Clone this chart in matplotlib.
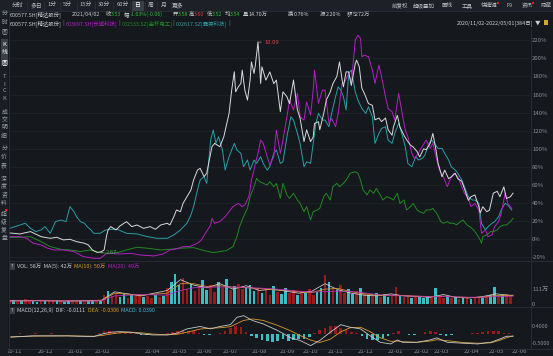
import matplotlib
matplotlib.use("Agg")
import matplotlib.pyplot as plt
from matplotlib.patches import Rectangle
from matplotlib.lines import Line2D

plt.rcParams['font.family'] = ['Noto Sans CJK SC', 'DejaVu Sans']

# ---- data (x = trading-day index, 0 = 2020/11/02) ----
white_day = [0, 8, 16, 24, 31, 36, 41, 46, 51, 57, 60, 63, 67, 70, 72, 73, 74, 75, 77, 81, 84, 89, 93, 97,
             102, 107, 111, 115, 120, 122, 125, 127, 130, 132, 138, 140, 143, 145, 148, 150, 154, 156, 160,
             163, 167, 169, 171, 172, 174, 176, 177, 179, 181, 183, 184, 186, 187, 189, 190, 191, 192, 195,
             198, 201, 203, 206, 208, 211, 213, 216, 219, 221, 224, 226, 229, 231, 232, 235, 236, 239, 241,
             244, 246, 249, 251, 253, 254, 256, 258, 260, 263, 264, 266, 268, 270, 273, 276, 278, 281, 283,
             286, 288, 291, 292, 295, 297, 300, 302, 305, 307, 310, 312, 315, 317, 320, 322, 324, 326, 329,
             331, 334, 336, 339, 341, 344, 346, 349, 351, 354, 357, 358, 360, 363, 365, 368, 371, 373, 376,
             378, 381, 383]
white_pct = [7, 5.9, 8.5, 2.9, 1.1, 2.2, -0.7, 0, -2.6, -4.4, -6.3, -11.8, -14.7, -13.6, -11.8, -3, 5, 10.3,
             14, 10.3, 14.7, 19.5, 14, 15.8, 12.1, 14, 11, 15.8, 17.7, 15.8, 25, 32.4, 30.5, 39.7, 54.5, 65.5,
             76.5, 78.4, 69.2, 72.9, 102.3, 106, 102.3, 113.3, 139.1, 164.9, 185.1, 163, 168.5, 172.2, 187,
             164.9, 153.8, 175.9, 196.1, 183.3, 192.5, 217.9, 198, 172.2, 190.6, 175.9, 185, 172, 176, 141,
             163, 157.5, 150, 176, 143, 134, 108, 121, 108, 113, 128, 130, 121, 139, 154, 163, 172, 180, 196,
             176, 168.5, 185, 185, 170, 194, 198, 191, 167, 161, 150, 148, 132, 134, 130, 134, 121, 115, 124,
             137, 124, 115, 110, 104, 102, 97, 91, 100, 99, 106, 117, 102, 84, 69, 76.5, 67, 69, 73, 67, 64,
             56, 43, 47, 49, 36, 29, 36, 30.5, 32, 51, 53, 47, 58, 45, 47, 51]

magenta_day = [0, 8, 13, 18, 24, 29, 34, 41, 49, 56, 64, 69, 74, 84, 92, 99, 110, 117, 122, 127, 132, 137,
               143, 146, 149, 153, 154, 156, 160, 164, 168, 170, 174, 177, 179, 182, 183, 184, 186, 187, 189,
               191, 193, 196, 198, 201, 203, 206, 208, 211, 213, 216, 219, 221, 224, 226, 229, 231, 232, 235,
               238, 240, 243, 245, 248, 250, 253, 255, 258, 260, 263, 265, 267, 268, 270, 273, 276, 278, 281,
               283, 286, 288, 291, 293, 296, 298, 301, 303, 306, 308, 311, 313, 317, 320, 322, 325, 327, 330,
               333, 335, 338, 341, 344, 346, 349, 351, 354, 357, 359, 362, 364, 367, 369, 372, 374, 377, 379,
               382]
magenta_pct = [3, 2.9, 1.1, -4.4, -6.3, -9.9, -11.8, -11.8, -13.6, -19.1, -21, -21, -15.5, -16.2, -15.5,
               -17.3, -18.4, -16.2, -11.8, -10.7, -8.1, -8.1, -4.4, -0.7, 6.6, 15.8, 23.2, 17.7, 19.5, 25,
               32.4, 36.1, 39.7, 36.1, 37.9, 47.1, 54.5, 65.5, 76.5, 83.9, 94.9, 109.7, 106, 91.3, 82.1, 91.3,
               120.7, 94.9, 109.7, 135.4, 153.8, 142.8, 161.2, 135.4, 131.7, 152, 137.3, 164.9, 187, 150.1,
               164.9, 164.9, 128.1, 133.6, 124.4, 139.1, 172.2, 174, 183.3, 172.2, 220, 225.6, 221.9, 201.7,
               203.5, 201.7, 187, 172.2, 192.5, 179.6, 157.5, 144.6, 140.9, 131.7, 161.2, 144.6, 120.7, 113.3,
               94.9, 89.4, 94.9, 100.5, 109.7, 100.5, 106, 87.6, 76.5, 69.2, 58.1, 65.5, 72.9, 69.2, 58.1,
               50.8, 45.3, 36.1, 39.7, 32.4, 6.6, 10.3, 2.9, 4.8, 14, 19.5, 28.7, 50.8, 39.7, 34.2]

green_day = [0, 8, 16, 24, 31, 39, 46, 54, 61, 69, 74, 82, 89, 97, 105, 115, 122, 130, 140, 148, 155, 165,
             170, 173, 175, 178, 181, 183, 186, 188, 190, 193, 196, 198, 201, 203, 206, 208, 211, 213, 216,
             219, 221, 224, 226, 229, 231, 234, 236, 239, 241, 244, 246, 249, 251, 254, 257, 259, 263, 265,
             267, 269, 272, 274, 277, 279, 282, 284, 287, 290, 292, 295, 297, 300, 302, 305, 307, 310, 312,
             315, 317, 320, 322, 325, 328, 330, 333, 335, 338, 340, 343, 345, 348, 350, 353, 355, 358, 359,
             360, 363, 366, 368, 371, 373, 376, 378, 381, 383]
green_pct = [2, 2.2, 2.9, -2.6, -8.1, -11, -11.8, -13.6, -11.8, -14.7, -15.5, -14.7, -11.8, -8.8, -9.9,
             -11.8, -11, -9.9, -9.2, -12.5, -14.7, -12.5, -8.1, 2.9, 14, 25, 34.2, 47.1, 58.1, 67.3, 64,
             61.8, 60, 63.7, 58.1, 61.8, 45.3, 61.8, 48.9, 45.3, 50.8, 43.4, 39.7, 30.5, 36.1, 21.3, 30.5,
             32.4, 34.2, 47.1, 50.8, 43.4, 58.1, 61.8, 58.1, 61.8, 67.3, 72.9, 74.7, 72.9, 65.5, 54.5, 48.9,
             54.5, 50.8, 56.3, 48.9, 43.4, 47.1, 45.3, 43.4, 50.8, 39.7, 43.4, 32.4, 36.1, 39.7, 32.4, 30.5,
             28.7, 32.4, 32.4, 34.2, 28.7, 19.5, 17.7, 19.5, 17.7, 17.7, 15.8, 19.5, 21.3, 15.8, 14, 10.3,
             6.6, -0.7, -4.4, 2.9, 4.8, 8.5, 8.5, 10.3, 14, 15.8, 15.8, 19.5, 23.2]

cyan_day = [0, 8, 12, 16, 20, 24, 27, 31, 35, 39, 43, 46, 49, 51, 54, 57, 59, 62, 64, 69, 73, 77, 82, 89,
            97, 105, 112, 120, 125, 130, 135, 138, 140, 143, 145, 148, 150, 153, 155, 157, 159, 162, 164,
            167, 171, 173, 176, 178, 181, 183, 186, 188, 191, 193, 196, 198, 201, 203, 206, 208, 211, 214,
            216, 219, 221, 224, 226, 229, 230, 233, 235, 238, 240, 243, 245, 248, 250, 252, 254, 256, 258,
            260, 263, 265, 268, 271, 273, 276, 278, 281, 283, 286, 288, 291, 293, 296, 298, 301, 303, 306,
            309, 311, 314, 316, 319, 321, 324, 326, 329, 331, 334, 336, 339, 341, 344, 347, 349, 352, 354,
            357, 359, 362, 364, 367, 369, 372, 374, 377, 379, 382]
cyan_pct = [12, 15.8, 17.7, 12.1, 8.5, 10.3, 14, 6.6, 19.5, 21.3, 19.5, 36.1, 30.5, 25, 19.5, 17.7, 14, 10.3,
            6.6, 6.6, 10.3, 11, 11, 6.6, 5.9, 2.9, 1.1, 1.1, 4.8, 10.3, 17.7, 26.9, 36.1, 54.5, 65.5, 69.2,
            61.8, 109.7, 120.7, 106, 113.3, 98.6, 76.5, 91.3, 106, 98.6, 94.9, 80.2, 87.6, 76.5, 87.6, 83.9,
            91.3, 83.9, 76.5, 80.2, 94.9, 98.6, 83.9, 85.7, 113.3, 135.4, 131.7, 117, 106, 80.2, 85.7, 83.9,
            94.9, 128.1, 139.1, 131.7, 131.7, 124.4, 139.1, 157.5, 168.5, 164.9, 157.5, 142.8, 183.3, 187,
            163, 153.8, 144.6, 139.1, 146.5, 135.4, 106, 117, 122.5, 124.4, 109.7, 106, 117, 128.1, 118.9,
            102.3, 83.9, 80.2, 91.3, 87.6, 89.4, 93.1, 106, 109.7, 104.1, 100.5, 100.5, 94.9, 87.6, 80.2,
            76.5, 72.9, 65.5, 54.5, 47.1, 43.4, 43.4, 39.7, 17.7, 10.3, 14, 17.7, 19.5, 25, 32.4, 39.7,
            37.9, 32.4]

price_high = "10.09"
price_low = "2.67"

# volume (万), one bar every 3 trading days
vol_day = list(range(0, 384, 3))
vol_val = [22, 30, 18, 26, 34, 20, 24, 16, 28, 22, 19, 25, 30, 21, 17, 23, 27, 20, 24, 18, 22, 26, 19, 24,
           70, 95, 62, 80, 55, 72, 48, 66, 58, 74, 52, 60, 45, 68, 50, 58,
           120, 165, 225, 140, 190, 110, 150, 95, 130, 175, 105, 140, 90, 160, 120, 185, 100, 135, 150, 110, 125,
           140, 95, 120, 80, 110, 70, 130, 90, 75, 115, 85, 100, 65, 95, 80, 110, 70, 90, 120, 215,
           160, 120, 100, 140, 85, 110, 75, 95, 120, 80,
           70, 60, 85, 55, 75, 50, 65, 125, 60, 55, 70, 48, 62, 50, 45, 58, 52, 115, 60, 48, 55, 42, 50, 38,
           45, 52, 40, 48, 55, 44, 60, 70, 125, 58, 65, 72, 68]
vol_dir = ("rcrcrrccrcrrcrcc" "rrcrccrcrcrrccrc" "rrcrrcrcrcccrrcr" "rccrrcrcrcrrcccr"
           "crrcrccrrcrcrrcc" "rcrcrrccrcrcrcrc" "crrcrrcrcccrcrrc" "rcrcrcrrcrccrcrr")

ma_day = [0, 20, 40, 60, 70, 80, 100, 120, 130, 140, 150, 160, 170, 180, 190, 200, 210, 220, 230, 240, 250,
          260, 270, 280, 290, 300, 310, 320, 330, 340, 350, 360, 370, 383]
ma5 = [24, 26, 22, 25, 28, 90, 60, 100, 180, 140, 120, 150, 110, 135, 100, 110, 95, 80, 95, 150, 105, 80,
       65, 60, 75, 60, 55, 50, 70, 48, 45, 55, 75, 62]
ma10 = [22, 24, 23, 23, 25, 80, 65, 80, 150, 150, 130, 135, 125, 120, 115, 105, 100, 90, 85, 110, 115, 90,
        75, 65, 65, 62, 58, 54, 58, 52, 48, 50, 62, 65]
ma20 = [22, 23, 23, 22, 24, 60, 70, 65, 100, 120, 125, 125, 125, 120, 118, 112, 105, 95, 88, 92, 95, 92,
        82, 70, 62, 60, 58, 56, 55, 52, 50, 50, 55, 58]

macd_day = [1, 18, 44, 64, 71, 77, 84, 92, 100, 109, 120, 128, 135, 145, 153, 160, 168, 173, 178, 185, 193,
            204, 214, 221, 229, 236, 244, 252, 259, 267, 274, 282, 290, 295, 299, 310, 320, 325, 333, 345,
            356, 366, 373, 378, 383]
dif = [-0.19, -0.12, -0.12, -0.16, -0.01, 0.08, 0.11, 0.08, -0.01, -0.07, -0.07, 0.04, 0.26, 0.39, 0.26,
       0.39, 0.49, 0.89, 0.98, 0.71, 0.53, 0.17, -0.23, -0.37, -0.65, -0.37, 0.08, 0.49, 0.35, 0.26, -0.1,
       -0.47, -0.56, -0.34, -0.47, -0.47, -0.34, -0.23, -0.47, -0.52, -0.56, -0.47, -0.29, -0.14, -0.14]
dea = [-0.17, -0.13, -0.12, -0.14, -0.09, -0.02, 0.05, 0.08, 0.05, -0.02, -0.06, -0.03, 0.08, 0.25, 0.30,
       0.32, 0.38, 0.55, 0.72, 0.80, 0.72, 0.45, 0.15, -0.10, -0.35, -0.48, -0.30, 0.10, 0.32, 0.35, 0.12,
       -0.22, -0.42, -0.40, -0.44, -0.47, -0.40, -0.33, -0.38, -0.48, -0.52, -0.50, -0.36, -0.22, -0.12]
hist_day = list(range(0, 384, 4))
hist = [-0.03, -0.02, 0.01, 0.0, -0.01, 0.01, -0.02, -0.01, 0.01, -0.02, 0.0, -0.03, -0.02, 0.0, -0.01,
        -0.04, -0.03, 0.06,
        0.12, 0.14, 0.10, 0.08, 0.05, 0.02, -0.04,
        -0.06, -0.05, -0.03, -0.02, -0.01, 0.01,
        0.08, 0.14, 0.18, 0.16, 0.12, 0.06,
        -0.05, -0.08, -0.04, 0.06,
        0.16, 0.30, 0.44, 0.36,
        0.10, -0.12, -0.25, -0.35, -0.42, -0.47, -0.38, -0.30, -0.42, -0.35, -0.28, -0.30, -0.18,
        0.05, 0.18, 0.30, 0.40, 0.44, 0.30, 0.20, 0.10, 0.02,
        -0.15, -0.28, -0.37, -0.32, -0.22, -0.12,
        0.06, 0.14, -0.04, -0.08,
        -0.06, -0.02, 0.08, 0.14, 0.10, -0.05, -0.10, -0.06,
        -0.04, -0.03, -0.02, 0.01, 0.03, 0.08, 0.15, 0.17, 0.12, 0.05, 0.02]

month_labels = ["20-11", "20-12", "21-01", "21-02", "21-04", "21-05", "21-06", "21-07", "21-08", "21-09",
                "21-10", "21-11", "21-12", "22-01", "22-02", "22-03", "22-04", "22-05", "22-06"]
month_pos = [3.8, 27.4, 50.2, 70.7, 108.7, 129.2, 148.2, 167.9, 190, 211.2, 228.7, 247.7, 270.5, 293.3,
             313.1, 328.3, 351.1, 370.8, 388.3]

# ---- colours ----
BG = '#15181d'
TOP_BG = '#1d2026'
STRIP_BG = '#1a1d22'
GRID = '#21252b'
SEP = '#2c3037'
TXT = '#c9ccd1'
AXT = '#8c9198'
C_WHITE = '#dadada'
C_MAG = '#b31fc3'
C_GREEN = '#1f8a22'
C_CYAN = '#2b9ea6'
UP = '#9c181a'
DOWN = '#3bbec3'
ORANGE = '#d99a2b'
RED_T = '#e23b3b'
GREEN_T = '#2fbf3a'

W, H = 553, 356
fig = plt.figure(figsize=(W / 100, H / 100), dpi=100)
fig.patch.set_facecolor(BG)
rend = fig.canvas.get_renderer()


def box(x0, y0, x1, y1):
    return [x0 / W, 1 - y1 / H, (x1 - x0) / W, (y1 - y0) / H]


def rect(x0, y0, x1, y1, color, z=0):
    fig.patches.append(Rectangle((x0 / W, 1 - y1 / H), (x1 - x0) / W, (y1 - y0) / H,
                                 transform=fig.transFigure, color=color, zorder=z, lw=0))


def hline(y, x0, x1, color=SEP, lw=0.6):
    fig.add_artist(Line2D([x0 / W, x1 / W], [1 - y / H, 1 - y / H], color=color, lw=lw))


def vline(x, y0, y1, color=SEP, lw=0.6):
    fig.add_artist(Line2D([x / W, x / W], [1 - y0 / H, 1 - y1 / H], color=color, lw=lw))


def put(x, y, s, color=TXT, size=3.9, ha='left'):
    return fig.text(x / W, 1 - y / H, s, color=color, fontsize=size, ha=ha, va='center')


def segs(x, y, parts, size=3.9):
    for s, c in parts:
        t = put(x, y, s, c, size)
        x += t.get_window_extent(renderer=rend).width
    return x


# toolbar + left strip backgrounds
rect(0, 0, 553, 11, TOP_BG)
hline(11, 0, 553)
rect(0, 11, 8, 356, STRIP_BG)
vline(8.5, 11, 356)
rect(132, 0.5, 144, 10.5, '#3a3e46', 1)

tabs = [("分时", 17.5), ("多日", 36), ("1分", 52.5), ("5分", 67.5), ("15分", 86), ("30分", 104),
        ("60分", 122.5), ("日", 138), ("周", 151), ("月", 163.5), ("更多", 177.5)]
for i, (s, cx) in enumerate(tabs):
    put(cx, 5.5, s, '#b8bcc2' if s != "日" else '#ffffff', size=4.2, ha='center')
    if i < len(tabs) - 1:
        vline((cx + tabs[i + 1][1]) / 2, 2, 9, '#30343b', 0.5)
for s, cx in [("前复权", 400), ("超级叠加", 424), ("画线", 447.5), ("工具", 467.5), ("快捷键", 489),
              ("F9", 510), ("资讯", 527), ("隐藏", 546)]:
    put(cx, 5.5, s, '#b8bcc2', size=4.0, ha='center')
for dx in (498, 533):
    rect(dx - 1, 2, dx + 0.5, 3.5, '#e02020', 2)

# left vertical tabs
rect(0.5, 39, 8, 66, '#3a3e46', 1)
strip = [("分", 14), ("时", 22.5), ("图", 31), ("K", 45), ("线", 53), ("图", 62), ("T", 77), ("I", 84),
         ("C", 91), ("K", 98), ("成", 112), ("交", 119.5), ("明", 127.5), ("细", 136), ("分", 149),
         ("价", 157), ("表", 166), ("深", 179), ("度", 187), ("资", 195), ("料", 203), ("超", 214),
         ("级", 222), ("复", 230), ("盘", 238)]
for s, yy in strip:
    put(4.2, yy, s, '#ffffff' if 40 < yy < 66 else '#9aa0a8', size=4.2, ha='center')
rect(5, 209, 6.8, 211, '#e02020', 2)

# header rows
y2 = 14.5
put(10, y2, "600577.SH[精达股份]")
put(72, y2, "2021/04/02")
for x0, lab, val, c in [(106, "收", "3.53", GREEN_T), (124, "幅", "-1.63%(-0.06)", GREEN_T),
                        (173, "开", "3.58", GREEN_T), (189, "高", "3.60", RED_T),
                        (207, "低", "3.52", GREEN_T), (225, "均", "3.54", GREEN_T),
                        (243, "量", "14.70万", TXT), (288, "换", "0.76%", TXT),
                        (320, "振", "2.20%", TXT), (347, "额", "5272万", TXT)]:
    segs(x0, y2, [(lab, TXT), (val, c)])
y3 = 23.5
segs(10, y3, [("600577.SH[精达股份]", TXT), (" | ", AXT), ("603897.SH[长城科技]", C_MAG), (" | ", AXT),
              ("002533.SZ[金杯电工]", C_GREEN), (" | ", AXT), ("002617.SZ[露笑科技]", C_CYAN), (" |", AXT)])
put(533, y3, "2020/11/02-2022/05/01[384日]", TXT, ha='right')
put(538, y3, "▼", TXT, size=4, ha='center')
rect(544, 20, 548, 25, '#d4a82a', 2)

xlim = (-0.76, 395.9)


def style(ax, lsize=4.3):
    ax.set_facecolor(BG)
    for sp in ax.spines.values():
        sp.set_visible(False)
    ax.set_xlim(*xlim)
    ax.yaxis.tick_right()
    ax.tick_params(axis='y', length=0, labelsize=lsize, labelcolor=AXT, pad=1.5)
    ax.tick_params(axis='x', length=0, labelsize=4.3, labelcolor=AXT, pad=0.8)
    ax.set_xticks([])


# main comparison chart
ax = fig.add_axes(box(8.5, 29, 530, 260))
style(ax)
ax.set_ylim(-22.9, 232.4)
ticks = list(range(-20, 221, 20))
ax.set_yticks(ticks)
ax.set_yticklabels([f"{t}%" for t in ticks])
ax.grid(axis='y', color=GRID, lw=0.5)
for d, p, c in [(cyan_day, cyan_pct, C_CYAN), (green_day, green_pct, C_GREEN),
                (magenta_day, magenta_pct, C_MAG), (white_day, white_pct, C_WHITE)]:
    ax.plot(d, p, color=c, lw=0.7)
hi = white_pct.index(max(white_pct))
lo = white_pct.index(min(white_pct))
ax.annotate(price_high, xy=(white_day[hi], white_pct[hi]), xytext=(6, 0), textcoords='offset pixels',
            color=RED_T, fontsize=4.2, va='center',
            arrowprops=dict(arrowstyle='-', color='#a0a0a0', lw=0.5, shrinkA=0, shrinkB=0))
ax.annotate(price_low, xy=(white_day[lo], white_pct[lo]), xytext=(8, 0), textcoords='offset pixels',
            color=GREEN_T, fontsize=4.2, va='center',
            arrowprops=dict(arrowstyle='-', color='#a0a0a0', lw=0.5, shrinkA=0, shrinkB=0))

# volume panel
hline(261, 8.5, 553)
rect(9.5, 263, 15, 269.5, '#3a3d44', 1)
put(12.2, 266.3, "?", TXT, size=3.8, ha='center')
segs(17, 266.3, [("VOL: 58万  MA(5): 42万  ", TXT), ("MA(10): 50万  ", ORANGE), ("MA(20): 49万", C_MAG)])
vax = fig.add_axes(box(8.5, 271, 530, 304))
style(vax)
vax.set_ylim(0, 244)
vax.bar(vol_day, vol_val, width=2.0, color=[UP if c == 'r' else DOWN for c in vol_dir], lw=0)
vax.plot(ma_day, ma5, color='#d0d0d0', lw=0.55)
vax.plot(ma_day, ma10, color=ORANGE, lw=0.55)
vax.plot(ma_day, ma20, color='#c230c0', lw=0.55)
vax.set_yticks([0, 111])
vax.set_yticklabels(["0", "111万"])

# MACD panel
hline(306.5, 8.5, 553)
rect(9.5, 307.5, 15, 314, '#3a3d44', 1)
put(12.2, 310.7, "?", TXT, size=3.8, ha='center')
segs(17, 310.7, [("MACD(12,26,9)  DIF: -0.0111  ", TXT), ("DEA: -0.0306  ", ORANGE),
                 ("MACD: 0.0390", '#3fb8d8')])
mx = fig.add_axes(box(8.5, 314, 530, 348))
style(mx, 3.9)
mx.set_ylim(-0.78, 1.07)
mx.bar(hist_day, hist, width=2.0, color=[UP if v >= 0 else DOWN for v in hist], lw=0)
mx.plot(macd_day, dea, color=ORANGE, lw=0.6)
mx.plot(macd_day, dif, color='#c8c8c8', lw=0.6)
mx.set_yticks([0.4, -0.5])
mx.set_yticklabels(["0.4000", "-0.5000"])
mx.set_xticks(month_pos)
mx.set_xticklabels(month_labels)

hline(348.5, 8.5, 553)
vline(530.5, 29, 348.5)

fig.savefig("out.png", dpi=100, facecolor=BG)
